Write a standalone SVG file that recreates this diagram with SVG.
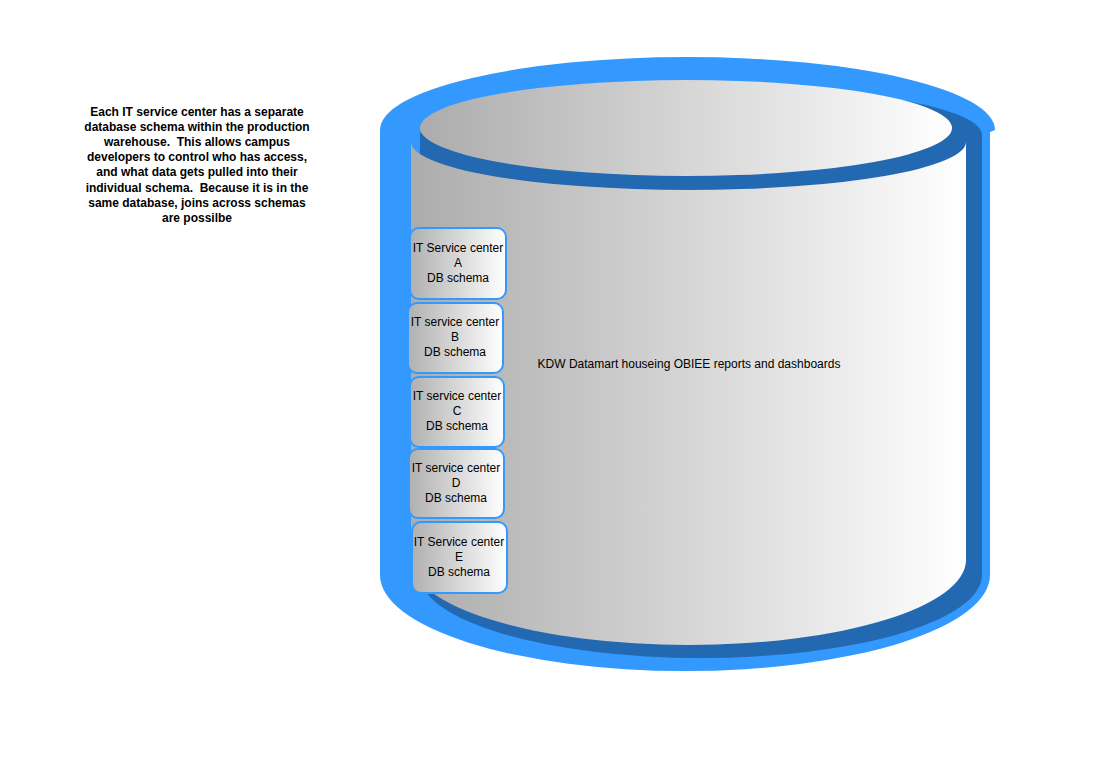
<svg xmlns="http://www.w3.org/2000/svg" width="1097" height="772" viewBox="0 0 1097 772">
<style>
.t{font-family:"Liberation Sans",Arial,sans-serif;font-size:12px;fill:#000;text-anchor:middle;white-space:pre}
.note{font-weight:bold}
.box{fill:url(#bg);stroke:#3399FF;stroke-width:2}
</style>
<defs>
<linearGradient id="gg" x1="0" y1="0" x2="1" y2="0">
<stop offset="0" stop-color="#ACACAC"/>
<stop offset="1" stop-color="#FFFFFF"/>
</linearGradient>
<linearGradient id="bg" x1="0" y1="0" x2="1" y2="0">
<stop offset="0" stop-color="#B0B0B0"/>
<stop offset="1" stop-color="#FFFFFF"/>
</linearGradient>
</defs>
<rect width="1097" height="772" fill="#FFFFFF"/>
<g id="note" xml:space="preserve">
<text class="t note" x="197" y="116">Each IT service center has a separate</text>
<text class="t note" x="197" y="131.1">database schema within the production</text>
<text class="t note" x="197" y="146.2">warehouse.  This allows campus</text>
<text class="t note" x="197" y="161.3">developers to control who has access,</text>
<text class="t note" x="197" y="176.4">and what data gets pulled into their</text>
<text class="t note" x="197" y="191.5">individual schema.  Because it is in the</text>
<text class="t note" x="197" y="206.6">same database, joins across schemas</text>
<text class="t note" x="197" y="221.7">are possilbe</text>
</g>
<g id="datamart">
<path d="M380,130 A307.5,73 0 0 1 995,130 L990,132 L990,575 A305,96 0 0 1 380,575 Z" fill="#3399FF"/>
<path d="M420,135 A281,50 0 0 1 982,135 L982,575 A281,83 0 0 1 420,575 Z" fill="#2369B2"/>
<path d="M411,142 A277.5,48 0 0 0 966,142 L966,560 A277.5,85 0 0 1 411,560 Z" fill="url(#gg)"/>
<ellipse cx="686" cy="128" rx="266" ry="48" fill="url(#gg)"/>
<text class="t" x="689" y="368">KDW Datamart houseing OBIEE reports and dashboards</text>
</g>
<g id="schemaA">
<rect class="box" x="410" y="228" width="96" height="71" rx="9"/>
<text class="t" x="458" y="252">IT Service center</text>
<text class="t" x="458" y="267">A</text>
<text class="t" x="458" y="282">DB schema</text>
</g>
<g id="schemaB">
<rect class="box" x="408" y="303" width="95" height="70" rx="9"/>
<text class="t" x="455" y="326">IT service center</text>
<text class="t" x="455" y="341">B</text>
<text class="t" x="455" y="356">DB schema</text>
</g>
<g id="schemaC">
<rect class="box" x="410" y="377" width="94" height="70" rx="9"/>
<text class="t" x="457" y="400">IT service center</text>
<text class="t" x="457" y="415">C</text>
<text class="t" x="457" y="430">DB schema</text>
</g>
<g id="schemaD">
<rect class="box" x="409" y="449" width="95" height="69" rx="9"/>
<text class="t" x="456" y="472">IT service center</text>
<text class="t" x="456" y="487">D</text>
<text class="t" x="456" y="502">DB schema</text>
</g>
<g id="schemaE">
<rect class="box" x="412" y="522" width="95" height="71" rx="9"/>
<text class="t" x="459" y="546">IT Service center</text>
<text class="t" x="459" y="561">E</text>
<text class="t" x="459" y="576">DB schema</text>
</g>
<g id="connectors"/>
</svg>
